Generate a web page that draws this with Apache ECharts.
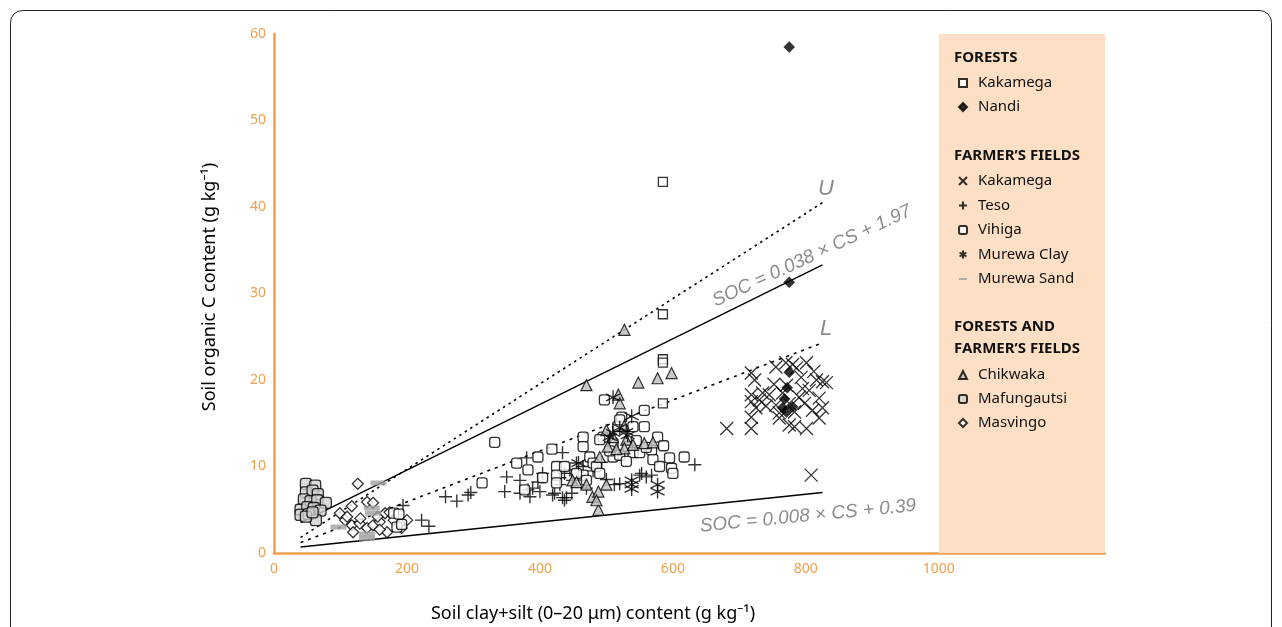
<!DOCTYPE html>
<html>
<head>
<meta charset="utf-8">
<script src="https://cdn.jsdelivr.net/npm/echarts@6/dist/echarts.min.js"></script>
<style>
html,body{margin:0;padding:0;background:#fff;}
#c{width:1282px;height:627px;}
</style>
</head>
<body>
<div id="c"></div>
<script>
// ---- data ----
const xTicks = [0, 200, 400, 600, 800, 1000];
const yTicks = [0, 10, 20, 30, 40, 50, 60];

const forestKakamega = [[585,42.9],[585,27.6],[585,22.4],[585,22.0],[585,17.3]];
const forestNandi = [[775,58.5],[775,31.3],[775,20.9],[772,19.1],[765,16.8],[771,16.3],[780,16.9],[768,17.8]];

const farmKakamega = [[681,14.4],[718,14.4],[718,15.7],[718,17.5],[718,18.3],[723,20.0],[718,20.8],[730,17.7],[755,21.5],[745,18.3],[755,17.1],[760,16.2],[775,14.8],[783,14.6],[786,21.4],[801,22.0],[801,14.4],[810,16.5],[820,15.6],[825,16.8],[825,19.8],[816,20.0],[831,19.7],[808,9.0],[771,19.4],[775,17.3],[790,18.0],[783,16.3],[765,18.5],[793,20.3],[798,17.3],[760,15.6],[820,17.9],[735,18.5],[725,16.8],[740,17.0],[795,19.0],[805,18.8],[812,21.0],[780,21.8],[770,22.0],[752,19.5]];

const farmTeso = [[194,5.5],[222,3.8],[233,3.1],[258,6.5],[275,6.0],[292,6.7],[296,7.0],[350,8.8],[347,7.1],[370,8.4],[370,6.9],[380,11.0],[382,7.3],[389,7.5],[400,7.1],[397,8.2],[419,6.7],[434,11.6],[434,6.4],[430,7.9],[385,6.5],[404,9.2],[422,6.9],[437,6.1],[448,6.9],[455,10.4],[465,10.0],[493,10.5],[512,7.9],[633,10.2],[553,9.2],[560,8.8],[430,8.7],[437,9.2],[445,9.6],[449,8.4],[440,6.4],[550,9.0],[568,9.0],[470,7.5],[480,9.5],[500,8.5],[520,8.0]];

const farmVihiga = [[185,3.0],[192,3.3],[180,4.6],[188,4.5],[332,12.8],[313,8.1],[365,10.4],[397,11.1],[382,9.6],[418,12.0],[404,8.7],[425,10.0],[425,9.0],[437,10.0],[377,7.3],[465,13.4],[465,12.3],[475,11.1],[480,10.4],[485,10.0],[490,9.2],[495,13.4],[497,17.7],[510,11.1],[520,11.3],[532,12.3],[540,11.6],[550,11.6],[557,14.6],[557,16.5],[568,11.9],[570,10.8],[577,13.4],[580,10.0],[595,11.0],[598,9.8],[600,9.2],[617,11.1],[517,14.6],[540,14.6],[465,9.0],[425,8.1],[490,13.1],[510,12.7],[523,15.7],[586,12.4],[505,11.8],[545,13.0],[560,12.2],[470,8.4],[455,9.2],[530,10.6],[520,15.4]];

const farmMurewaClay = [[510,18.0],[538,15.8],[510,13.9],[505,13.4],[532,13.6],[538,8.4],[538,7.9],[538,7.4],[577,7.9],[577,7.1],[458,10.4],[520,14.5],[530,14.0]];

const farmMurewaSand = [[157,8.1],[147,5.2],[149,4.6],[97,3.0],[140,2.2],[140,1.7]];

const bothChikwaka = [[527,25.8],[470,19.4],[548,19.7],[577,20.2],[598,20.8],[518,18.3],[520,17.3],[500,14.2],[527,14.7],[530,13.1],[527,12.1],[490,11.1],[502,12.3],[557,12.7],[570,12.8],[449,8.4],[455,8.2],[470,7.9],[500,7.9],[479,6.5],[488,7.1],[488,5.0],[485,6.1],[510,13.4],[540,12.5],[515,12.0]];

const bothMafungautsi = [[48,8.0],[62,7.8],[48,7.0],[58,7.2],[66,6.8],[45,6.2],[55,6.0],[65,6.1],[78,5.8],[40,5.0],[50,5.3],[60,5.2],[70,4.9],[40,4.4],[52,4.5],[63,3.8],[48,4.2],[58,4.7]];

const bothMasvingo = [[126,8.0],[99,4.6],[117,5.4],[140,5.9],[149,5.8],[107,3.8],[117,3.2],[119,2.4],[140,2.9],[149,3.2],[159,3.6],[156,4.2],[167,4.6],[174,4.7],[170,2.4],[159,2.7],[192,2.9],[200,3.8],[189,3.4],[129,3.4],[110,4.2],[130,4.0],[180,3.8]];

// boundary lines (end points)
const lineU = [[40,1.8],[825,40.5]];
const lineUpperFit = [[40,3.5],[825,33.3]];
const lineL = [[40,1.2],[825,24.3]];
const lineLowerFit = [[40,0.7],[825,7.0]];

// ---- style ----
const ORANGE = '#F0A04B';
const FONT = '"Noto Sans", "Open Sans", sans-serif';
const EQFONT = '"Liberation Sans", Arial, sans-serif';
const PEACH = '#FCDFC4';

const chart = echarts.init(document.getElementById('c'), null, {renderer: 'canvas'});

const crossX = 'path://M0,0L10,10M10,0L0,10';
const plus = 'path://M5,0L5,10M0,5L10,5';
const aster = 'path://M5,0L5,10M0.67,2.5L9.33,7.5M0.67,7.5L9.33,2.5';
const sandBar = 'path://M0,0L16,0L16,4L0,4Z';

const nameMap = {'Kakamega (forest)': 'Kakamega', 'Kakamega (farm)': 'Kakamega'};

function lineSeries(data, type) {
  return {
    type: 'line', data: data, symbol: 'none', silent: true, z: 1,
    lineStyle: {color: '#000', width: type === 'solid' ? 1.4 : 1.6, type: type},
    legendHoverLink: false
  };
}

function legendBlock(top, data, gap) {
  return {
    orient: 'vertical', left: 953, top: top, itemGap: gap,
    itemWidth: 8, itemHeight: 8, selectedMode: false,
    data: data,
    formatter: n => nameMap[n] || n,
    textStyle: {fontFamily: FONT, fontSize: 15, color: '#111', lineHeight: 18, padding: [0, 0, 0, 6]}
  };
}

const option = {
  animation: false,
  backgroundColor: '#fff',
  grid: {left: 274, top: 34, right: 177, bottom: 74, containLabel: false},
  xAxis: {
    type: 'value', min: 0, max: 1250, interval: 200,
    axisLine: {show: true, lineStyle: {color: ORANGE, width: 2.5}},
    axisTick: {show: false},
    splitLine: {show: false},
    axisLabel: {color: ORANGE, fontFamily: FONT, fontSize: 14, margin: 9,
      formatter: v => xTicks.indexOf(v) >= 0 ? String(v) : ''}
  },
  yAxis: {
    type: 'value', min: 0, max: 60, interval: 10,
    axisLine: {show: true, lineStyle: {color: ORANGE, width: 2.5}},
    axisTick: {show: false},
    splitLine: {show: false},
    axisLabel: {color: ORANGE, fontFamily: FONT, fontSize: 14, margin: 8,
      formatter: v => yTicks.indexOf(v) >= 0 ? String(v) : ''}
  },
  legend: [
    legendBlock(69, ['Kakamega (forest)', 'Nandi'], 6),
    legendBlock(167, ['Kakamega (farm)', 'Teso', 'Vihiga', 'Murewa Clay',
      {name: 'Murewa Sand', icon: sandBar}], 6.5),
    legendBlock(361, ['Chikwaka', 'Mafungautsi', 'Masvingo'], 6)
  ],
  series: [
    {
      type: 'scatter', data: [], silent: true, name: '_bg',
      markArea: {silent: true, itemStyle: {color: PEACH}, data: [[{coord: [1000, 0]}, {coord: [1250, 60]}]]}
    },
    lineSeries(lineU, [2.5, 4]),
    lineSeries(lineUpperFit, 'solid'),
    lineSeries(lineL, [3, 5]),
    lineSeries(lineLowerFit, 'solid'),
    {name: 'Masvingo', type: 'scatter', data: bothMasvingo, symbol: 'diamond', symbolSize: 11,
      itemStyle: {color: '#fff', borderColor: '#000', borderWidth: 1.3}},
    {name: 'Mafungautsi', type: 'scatter', data: bothMafungautsi, symbol: 'roundRect', symbolSize: 11,
      itemStyle: {color: '#d0d0d0', borderColor: '#000', borderWidth: 1.3}},
    {name: 'Murewa Sand', type: 'scatter', data: farmMurewaSand, symbol: 'rect', symbolSize: [16, 5],
      itemStyle: {color: '#a0a0a0'}},
    {name: 'Teso', type: 'scatter', data: farmTeso, symbol: plus, symbolSize: 13,
      itemStyle: {color: 'rgba(0,0,0,0)', borderColor: '#000', borderWidth: 1.4}},
    {name: 'Vihiga', type: 'scatter', data: farmVihiga, symbol: 'roundRect', symbolSize: 10,
      itemStyle: {color: '#fff', borderColor: '#000', borderWidth: 1.3}},
    {name: 'Chikwaka', type: 'scatter', data: bothChikwaka, symbol: 'triangle', symbolSize: 11,
      itemStyle: {color: '#bdbdbd', borderColor: '#000', borderWidth: 1.2}},
    {name: 'Murewa Clay', type: 'scatter', data: farmMurewaClay, symbol: aster, symbolSize: 14,
      itemStyle: {color: 'rgba(0,0,0,0)', borderColor: '#000', borderWidth: 1.4}},
    {name: 'Kakamega (farm)', type: 'scatter', data: farmKakamega, symbol: crossX, symbolSize: 13,
      itemStyle: {color: 'rgba(0,0,0,0)', borderColor: '#000', borderWidth: 1.3}},
    {name: 'Kakamega (forest)', type: 'scatter', data: forestKakamega, symbol: 'rect', symbolSize: 9,
      itemStyle: {color: '#fff', borderColor: '#000', borderWidth: 1.3}},
    {name: 'Nandi', type: 'scatter', data: forestNandi, symbol: 'diamond', symbolSize: 11,
      itemStyle: {color: '#000', borderColor: '#000', borderWidth: 0.5}}
  ],
  graphic: [
    {type: 'rect', z: 100, shape: {x: 10.5, y: 10.5, width: 1261, height: 700, r: 12}, silent: true,
      style: {fill: 'none', stroke: '#222', lineWidth: 1}},
    {type: 'text', z: 100, x: 210, y: 287, rotation: Math.PI / 2, silent: true,
      style: {text: 'Soil organic C content (g kg\u207B\u00B9)', font: '18px ' + FONT, fill: '#000',
        textAlign: 'center', textVerticalAlign: 'middle'}},
    {type: 'text', z: 100, x: 593, y: 614, silent: true,
      style: {text: 'Soil clay+silt (0\u201320 \u03BCm) content (g kg\u207B\u00B9)', font: '18px ' + FONT, fill: '#000',
        textAlign: 'center', textVerticalAlign: 'middle'}},
    {type: 'text', z: 100, x: 826, y: 189, silent: true,
      style: {text: 'U', font: 'italic 22px ' + EQFONT, fill: '#8c8c8c', textAlign: 'center', textVerticalAlign: 'middle'}},
    {type: 'text', z: 100, x: 826, y: 329, silent: true,
      style: {text: 'L', font: 'italic 22px ' + EQFONT, fill: '#8c8c8c', textAlign: 'center', textVerticalAlign: 'middle'}},
    {type: 'text', z: 100, x: 812, y: 256, rotation: 25 * Math.PI / 180, silent: true,
      style: {text: 'SOC = 0.038 \u00D7 CS + 1.97', font: 'italic 19px ' + EQFONT, fill: '#8c8c8c',
        textAlign: 'center', textVerticalAlign: 'middle'}},
    {type: 'text', z: 100, x: 808, y: 516, rotation: 5.5 * Math.PI / 180, silent: true,
      style: {text: 'SOC = 0.008 \u00D7 CS + 0.39', font: 'italic 19px ' + EQFONT, fill: '#8c8c8c',
        textAlign: 'center', textVerticalAlign: 'middle'}},
    {type: 'text', z: 100, x: 954, y: 58, silent: true,
      style: {text: 'FORESTS', font: 'bold 15px ' + FONT, fill: '#111', textVerticalAlign: 'middle'}},
    {type: 'text', z: 100, x: 954, y: 156, silent: true,
      style: {text: 'FARMER\u2019S FIELDS', font: 'bold 15px ' + FONT, fill: '#111', textVerticalAlign: 'middle'}},
    {type: 'text', z: 100, x: 954, y: 327, silent: true,
      style: {text: 'FORESTS AND', font: 'bold 15px ' + FONT, fill: '#111', textVerticalAlign: 'middle'}},
    {type: 'text', z: 100, x: 954, y: 349, silent: true,
      style: {text: 'FARMER\u2019S FIELDS', font: 'bold 15px ' + FONT, fill: '#111', textVerticalAlign: 'middle'}}
  ]
};
chart.setOption(option);
</script>
</body>
</html>
